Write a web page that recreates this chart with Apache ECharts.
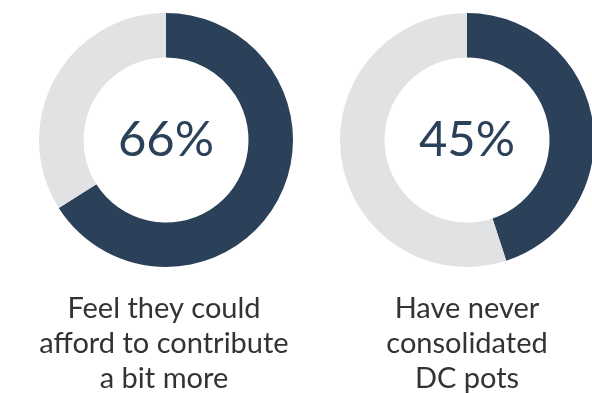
<!DOCTYPE html>
<html>
<head>
<meta charset="utf-8">
<script src="https://cdn.jsdelivr.net/npm/echarts@6/dist/echarts.min.js"></script>
<style>
  html, body { margin: 0; padding: 0; background: #ffffff; }
  #chart { width: 592px; height: 393px; }
</style>
</head>
<body>
<div id="chart"></div>
<script>
// Share of respondents for each statement (percent)
const shares = [66, 45];
const captions = [
  'Feel they could\nafford to contribute\na bit more',
  'Have never\nconsolidated\nDC pots'
];

const DARK = '#2b4159';
const LIGHT = '#e1e2e4';
const FONT = 'Lato, "Open Sans", sans-serif';

// Layout for each donut: ring centre and caption centre
const centres = [[166, 140], [467, 140]];
const captionX = [164, 467];

const chart = echarts.init(document.getElementById('chart'), null, { renderer: 'canvas' });

const series = shares.map((v, i) => ({
  type: 'pie',
  center: centres[i],
  radius: [82.5, 127],
  startAngle: 90,
  clockwise: true,
  silent: true,
  animation: false,
  label: { show: false },
  labelLine: { show: false },
  itemStyle: { borderWidth: 0 },
  data: [
    { value: v, itemStyle: { color: DARK } },
    { value: 100 - v, itemStyle: { color: LIGHT } }
  ]
}));

const titles = [];
shares.forEach((v, i) => {
  titles.push({
    text: v + '%',
    left: centres[i][0],
    top: centres[i][1],
    textAlign: 'center',
    textVerticalAlign: 'middle',
    padding: 0,
    textStyle: { fontFamily: FONT, fontSize: 49, fontWeight: 'normal', color: DARK }
  });
  titles.push({
    text: captions[i],
    left: captionX[i],
    top: 291,
    textAlign: 'center',
    padding: 0,
    textStyle: { fontFamily: FONT, fontSize: 29, fontWeight: 'normal', color: '#333333', lineHeight: 35, align: 'center' }
  });
});

chart.setOption({
  backgroundColor: '#ffffff',
  animation: false,
  title: titles,
  series: series
});
</script>
</body>
</html>
